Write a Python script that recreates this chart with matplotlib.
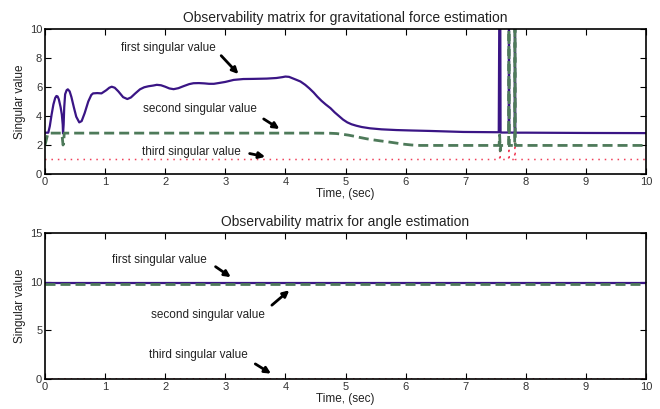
import matplotlib
matplotlib.use('Agg')
import matplotlib.pyplot as plt

plt.rcParams['font.family'] = ['Liberation Sans', 'DejaVu Sans']

# top panel: gravitational force estimation
t_first = [0, 0.055, 0.08, 0.11, 0.14, 0.17, 0.19, 0.21, 0.23, 0.26, 0.28, 0.295, 0.30, 0.31, 0.32,
           0.335, 0.36, 0.38, 0.41, 0.44, 0.48, 0.52, 0.57, 0.61, 0.66, 0.72, 0.77, 0.8, 0.87,
           0.94, 1.02, 1.07, 1.11, 1.16, 1.22, 1.3, 1.37, 1.43, 1.5, 1.58, 1.65, 1.72, 1.8, 1.86,
           1.93, 2.0, 2.07, 2.14, 2.22, 2.3, 2.4, 2.47, 2.56, 2.65, 2.73, 2.81, 2.9, 3.0, 3.14,
           3.3, 3.47, 3.69, 3.85, 3.95, 4.0, 4.06, 4.12, 4.18, 4.25, 4.33, 4.4, 4.47, 4.53,
           4.6, 4.67, 4.75, 4.82, 4.89, 4.96, 5.03, 5.1, 5.18, 5.27, 5.41, 5.6, 5.85, 6.1, 6.4,
           6.96, 7.55, 7.56, 7.575, 7.58, 7.715, 7.72, 7.725, 7.815, 7.82, 7.825, 8.0, 9.0, 10]
first_gf = [2.85, 2.85, 3.3, 4.1, 4.8, 5.25, 5.38, 5.35, 5.15, 4.6, 4.1, 3.4, 2.8, 3.4, 4.6,
            5.5, 5.78, 5.84, 5.7, 5.3, 4.6, 3.95, 3.56, 3.65, 4.2, 5.0, 5.45, 5.56, 5.58,
            5.56, 5.78, 5.95, 6.02, 5.95, 5.7, 5.3, 5.17, 5.28, 5.55, 5.84, 5.98, 6.05, 6.1, 6.15,
            6.12, 6.02, 5.9, 5.85, 5.92, 6.05, 6.2, 6.26, 6.27, 6.25, 6.22, 6.22, 6.28, 6.35, 6.49,
            6.55, 6.56, 6.58, 6.62, 6.68, 6.72, 6.7, 6.6, 6.5, 6.38, 6.15, 5.9, 5.62, 5.34,
            5.05, 4.8, 4.54, 4.25, 4.0, 3.75, 3.56, 3.43, 3.33, 3.24, 3.15, 3.08, 3.03, 3.0, 2.97,
            2.9, 2.88, 12, 12, 2.86, 2.86, 12, 2.86, 2.85, 12, 2.85, 2.85, 2.83, 2.82]

t_second = [0, 0.05, 0.28, 0.30, 0.31, 0.32, 4.5, 4.75, 4.85, 4.95, 5.05, 5.15, 5.24, 5.35, 5.45,
            5.57, 5.7, 5.8, 5.96, 6.1, 6.24, 7.555, 7.565, 7.575, 7.585, 7.715, 7.72, 7.725,
            7.815, 7.82, 7.825, 10]
second_gf = [2.0, 2.82, 2.82, 2.0, 2.1, 2.82, 2.82, 2.81, 2.79, 2.74, 2.68, 2.6, 2.52, 2.43, 2.36,
             2.29, 2.22, 2.16, 2.06, 2.0, 1.97, 1.97, 2.7, 1.6, 1.97, 1.97, 12, 1.97,
             1.97, 12, 1.97, 1.97]

t_third = [0, 7.565, 7.57, 7.575, 7.715, 7.72, 7.725, 7.815, 7.82, 7.825, 10]
third_gf = [1.0, 1.0, 2.7, 1.0, 1.0, 2.7, 1.0, 1.0, 2.7, 1.0, 1.0]

# bottom panel: angle estimation
t_flat = [0, 10]
first_ang = [9.9, 9.9]
second_ang = [9.8, 9.8]
third_ang = [0.05, 0.05]

purple = '#3a1585'
green = '#4e7a5a'
red = '#f0405a'

fig = plt.figure(figsize=(6.6, 4.09), dpi=100)
ax1 = fig.add_axes([45 / 660, 1 - 174 / 409, 601 / 660, 145 / 409])
ax2 = fig.add_axes([45 / 660, 1 - 379 / 409, 601 / 660, 146 / 409])


def draw(ax, t1, y1, t2, y2, t3, y3):
    ax.plot(t3, y3, color=red, lw=1.1, linestyle=(0, (1, 3.2)))
    ax.plot(t1, y1, color=purple, lw=1.6)
    ax.plot(t2, y2, color=green, lw=2.0, dashes=[3.6, 1.8])


def style(ax, title, ymax, yticks):
    ax.set_xlim(0, 10)
    ax.set_ylim(0, ymax)
    ax.set_xticks(range(11))
    ax.set_yticks(yticks)
    ax.tick_params(direction='in', top=True, right=True, length=4, width=0.8,
                   labelsize=8, labelcolor='#333333', pad=2)
    for s in ax.spines.values():
        s.set_linewidth(1.2)
    ax.set_title(title, fontsize=10, color='#222222', pad=5)
    ax.set_xlabel('Time, (sec)', fontsize=8.5, color='#222222', labelpad=1)
    ax.set_ylabel('Singular value', fontsize=8.5, color='#222222', labelpad=3)


draw(ax1, t_first, first_gf, t_second, second_gf, t_third, third_gf)
style(ax1, 'Observability matrix for gravitational force estimation', 10, [0, 2, 4, 6, 8, 10])

draw(ax2, t_flat, first_ang, t_flat, second_ang, t_flat, third_ang)
style(ax2, 'Observability matrix for angle estimation', 15, [0, 5, 10, 15])

arr = dict(arrowstyle='-|>', color='black', lw=2.0, mutation_scale=9)
kw = dict(fontsize=8.5, color='#222222', ha='center', va='center')

ax1.annotate('', xy=(3.25, 6.75), xytext=(2.9, 8.3), arrowprops=arr)
ax1.text(2.05, 8.7, 'first singular value', **kw)
ax1.annotate('', xy=(3.94, 3.0), xytext=(3.6, 3.9), arrowprops=arr)
ax1.text(2.58, 4.5, 'second singular value', **kw)
ax1.annotate('', xy=(3.71, 1.15), xytext=(3.36, 1.45), arrowprops=arr)
ax1.text(2.44, 1.5, 'third singular value', **kw)

ax2.annotate('', xy=(3.13, 10.3), xytext=(2.8, 11.7), arrowprops=arr)
ax2.text(1.91, 12.2, 'first singular value', **kw)
ax2.annotate('', xy=(4.1, 9.3), xytext=(3.74, 7.4), arrowprops=arr)
ax2.text(2.71, 6.6, 'second singular value', **kw)
ax2.annotate('', xy=(3.8, 0.4), xytext=(3.46, 1.7), arrowprops=arr)
ax2.text(2.56, 2.5, 'third singular value', **kw)

fig.savefig('out.png', dpi=100)
